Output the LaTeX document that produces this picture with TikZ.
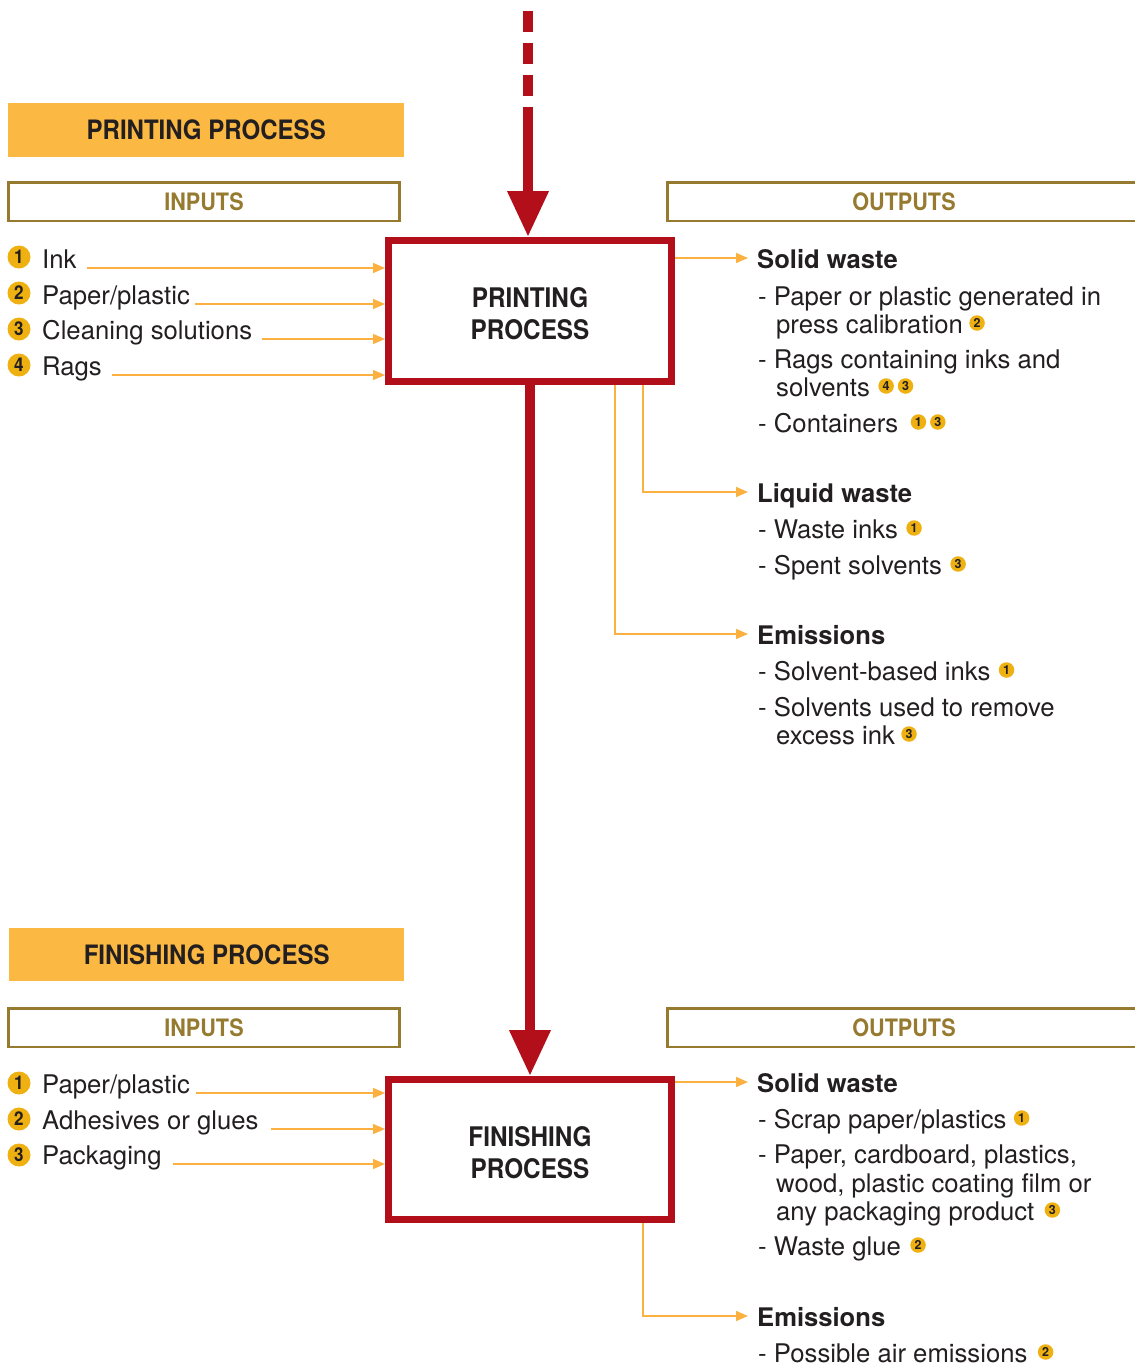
\documentclass[tikz,border=0pt]{standalone}
\usepackage{fontspec}
\setmainfont{TeX Gyre Heros}
\newfontfamily\condf[FakeStretch=0.9]{TeX Gyre Heros}
\usetikzlibrary{arrows.meta,calc}
\definecolor{hdrfill}{HTML}{FBB843}
\definecolor{goldline}{HTML}{957A2F}
\definecolor{procred}{HTML}{B20F1B}
\definecolor{oline}{HTML}{FBB040}
\definecolor{cfill}{HTML}{EEB111}
\definecolor{txtdark}{HTML}{231F20}
\begin{document}
\begin{tikzpicture}[x=1pt,y=-1pt,
  every node/.style={text=txtdark},
  hdr/.style={fill=hdrfill, anchor=north west, minimum width=396pt, minimum height=54pt, inner sep=0pt, font=\condf\bfseries\fontsize{26.7}{26.7}\selectfont},
  iobox/.style={draw=goldline, line width=2.5pt, minimum height=38.5pt, inner sep=0pt, text=goldline, font=\condf\bfseries\fontsize{24}{24}\selectfont},
  procbox/.style={draw=procred, line width=7pt, minimum width=283pt, minimum height=141pt, inner sep=0pt},
  proctext/.style={align=center, inner sep=0pt, font=\condf\bfseries\fontsize{27}{32}\selectfont},
  inum/.style={circle, fill=cfill, inner sep=0pt, minimum size=23pt, font=\condf\bfseries\fontsize{19}{19}\selectfont},
  snum/.style={circle, fill=cfill, inner sep=0pt, minimum size=15.5pt, anchor=west, font=\bfseries\fontsize{12.5}{12.5}\selectfont},
  lbl/.style={anchor=base west, inner sep=0pt, font=\fontsize{25.7}{25.7}\selectfont},
  head/.style={lbl, font=\bfseries\fontsize{25.6}{25.6}\selectfont, text height=20pt, text depth=0pt},
  oarr/.style={draw=oline, line width=1.6pt, -{Triangle[length=12pt,width=10pt]}},
  redline/.style={draw=procred, line width=10pt, -{Triangle[length=46pt,width=39pt]}}
]
\useasboundingbox (0,0) rectangle (1135,1369);

% ---------------- PRINTING ----------------
\node[hdr] (phdr) at (8,103) {PRINTING PROCESS};
\node[iobox, minimum width=391pt] (pin) at (204,201.5) {INPUTS};
\node[iobox, minimum width=473pt] (pout) at (904,201.5) {OUTPUTS};
\node[procbox] (pbox) at (530,311) {};
\node[proctext] (ptxt) at ([yshift=-3pt]pbox.center) {PRINTING\\PROCESS};

\coordinate (topc) at (528,11);
\draw[redline, dash pattern=on 21pt off 11pt on 21pt off 11pt on 21pt off 11pt on 400pt] (topc) -- (topc |- pbox.north);

% inputs
\node[inum] (pc1) at (19,257) {1};
\node[lbl] (pi1) at (42,268) {Ink};
\node[inum] (pc2) at (19,293) {2};
\node[lbl] (pi2) at (42,304) {Paper/plastic};
\node[inum] (pc3) at (19,329) {3};
\node[lbl] (pi3) at (42,339) {Cleaning solutions};
\node[inum] (pc4) at (19,365) {4};
\node[lbl] (pi4) at (42,375) {Rags};
\draw[oarr] ([xshift=10pt]pi1.base east) -- (pbox.west |- pi1.base);
\draw[oarr] ([xshift=5pt]pi2.base east) -- (pbox.west |- pi2.base);
\draw[oarr] ([xshift=10pt]pi3.base east) -- (pbox.west |- pi3.base);
\draw[oarr] ([xshift=10pt]pi4.base east) -- (pbox.west |- pi4.base);

% outputs
\node[head] (psw) at (757,268) {Solid waste};
\draw[oarr] (pbox.east |- psw.west) -- ([xshift=-9pt]psw.west);
\node[lbl] (ps1a) at (758,305) {- Paper or plastic generated in};
\node[lbl] (ps1b) at (776,333) {press calibration};
\node[snum] at ([xshift=6pt,yshift=10pt]ps1b.base east) {2};
\node[lbl] (ps2a) at (758,368) {- Rags containing inks and};
\node[lbl] (ps2b) at (776,396) {solvents};
\node[snum] (ps2c) at ([xshift=8pt,yshift=10pt]ps2b.base east) {4};
\node[snum] at ([xshift=3.5pt]ps2c.east) {3};
\node[lbl] (ps3) at (758,432) {- Containers};
\node[snum] (ps3c) at ([xshift=12pt,yshift=10pt]ps3.base east) {1};
\node[snum] at ([xshift=3.5pt]ps3c.east) {3};

\node[head] (plw) at (757,502) {Liquid waste};
\draw[oarr] ([xshift=113pt]pbox.south) |- ([xshift=-9pt]plw.west);
\node[lbl] (pl1) at (758,538) {- Waste inks};
\node[snum] at ([xshift=8pt,yshift=10pt]pl1.base east) {1};
\node[lbl] (pl2) at (758,574) {- Spent solvents};
\node[snum] at ([xshift=8pt,yshift=10pt]pl2.base east) {3};

\node[head] (pem) at (757,644) {Emissions};
\draw[oarr] ([xshift=85pt]pbox.south) |- ([xshift=-9pt]pem.west);
\node[lbl] (pe1) at (758,680) {- Solvent-based inks};
\node[snum] at ([xshift=8pt,yshift=10pt]pe1.base east) {1};
\node[lbl] (pe2a) at (758,716) {- Solvents used to remove};
\node[lbl] (pe2b) at (776,744) {excess ink};
\node[snum] at ([xshift=6pt,yshift=10pt]pe2b.base east) {3};

% ---------------- FINISHING ----------------
\node[hdr, minimum width=395pt, minimum height=53pt] (fhdr) at (9,928) {FINISHING PROCESS};
\node[iobox, minimum width=391pt] (fin) at (204,1027.5) {INPUTS};
\node[iobox, minimum width=473pt] (fout) at (904,1027.5) {OUTPUTS};
\node[procbox, minimum height=140pt] (fbox) at (530,1149.5) {};
\node[proctext] (ftxt) at ([yshift=-3pt]fbox.center) {FINISHING\\PROCESS};

\draw[redline] (pbox.south) -- (fbox.north);

% inputs
\node[inum] (fc1) at (19,1083) {1};
\node[lbl] (fi1) at (42,1093) {Paper/plastic};
\node[inum] (fc2) at (19,1119) {2};
\node[lbl] (fi2) at (42,1129) {Adhesives or glues};
\node[inum] (fc3) at (19,1155) {3};
\node[lbl] (fi3) at (42,1164) {Packaging};
\draw[oarr] ([xshift=6pt]fi1.base east) -- (fbox.west |- fi1.base);
\draw[oarr] ([xshift=12pt]fi2.base east) -- (fbox.west |- fi2.base);
\draw[oarr] ([xshift=11pt]fi3.base east) -- (fbox.west |- fi3.base);

% outputs
\node[head] (fsw) at (757,1092) {Solid waste};
\draw[oarr] (fbox.east |- fsw.west) -- ([xshift=-9pt]fsw.west);
\node[lbl] (fs1) at (758,1128) {- Scrap paper/plastics};
\node[snum] at ([xshift=7pt,yshift=10pt]fs1.base east) {1};
\node[lbl] (fs2a) at (758,1163) {- Paper, cardboard, plastics,};
\node[lbl] (fs2b) at (776,1192) {wood, plastic coating film or};
\node[lbl] (fs2c) at (776,1220) {any packaging product};
\node[snum] at ([xshift=10pt,yshift=10pt]fs2c.base east) {3};
\node[lbl] (fs3) at (758,1255) {- Waste glue};
\node[snum] at ([xshift=9pt,yshift=10pt]fs3.base east) {2};

\node[head] (fem) at (757,1326) {Emissions};
\draw[oarr] ([xshift=113pt]fbox.south) |- ([xshift=-9pt]fem.west);
\node[lbl] (fe1) at (758,1362) {- Possible air emissions};
\node[snum] at ([xshift=10pt,yshift=10pt]fe1.base east) {2};
\end{tikzpicture}
\end{document}
